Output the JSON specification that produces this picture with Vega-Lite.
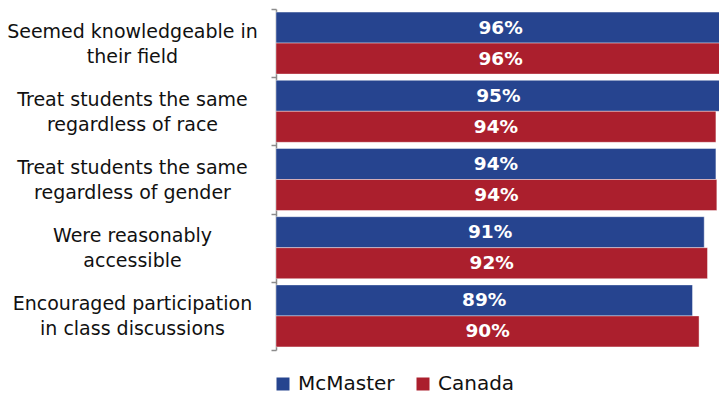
{
  "$schema": "https://vega.github.io/schema/vega-lite/v6.json",
  "width": 443,
  "height": 341,
  "autosize": {"type": "none"},
  "padding": {"left": 276, "top": 9, "right": 0, "bottom": 45},
  "background": "white",
  "config": {"view": {"stroke": null}, "font": "DejaVu Sans"},
  "data": {
    "values": [
      {"item": "Seemed knowledgeable in\ntheir field", "school": "McMaster", "value": 96, "label": "96%"},
      {"item": "Seemed knowledgeable in\ntheir field", "school": "Canada", "value": 96, "label": "96%"},
      {"item": "Treat students the same\nregardless of race", "school": "McMaster", "value": 95, "label": "95%"},
      {"item": "Treat students the same\nregardless of race", "school": "Canada", "value": 94, "label": "94%"},
      {"item": "Treat students the same\nregardless of gender", "school": "McMaster", "value": 94, "label": "94%"},
      {"item": "Treat students the same\nregardless of gender", "school": "Canada", "value": 94.2, "label": "94%"},
      {"item": "Were reasonably\naccessible", "school": "McMaster", "value": 91.5, "label": "91%"},
      {"item": "Were reasonably\naccessible", "school": "Canada", "value": 92.2, "label": "92%"},
      {"item": "Encouraged participation\nin class discussions", "school": "McMaster", "value": 89, "label": "89%"},
      {"item": "Encouraged participation\nin class discussions", "school": "Canada", "value": 90.4, "label": "90%"}
    ]
  },
  "transform": [{"calculate": "datum.value / 2", "as": "mid"}],
  "encoding": {
    "y": {
      "field": "item",
      "type": "nominal",
      "sort": null,
      "scale": {"paddingInner": 0, "paddingOuter": 0},
      "axis": {
        "title": null,
        "labelExpr": "split(datum.label, '\\n')",
        "labelAlign": "center",
        "labelBaseline": "middle",
        "labelOffset": -12,
        "labelPadding": 139,
        "labelFontSize": 19,
        "labelLineHeight": 25,
        "labelColor": "#111111",
        "labelFont": "DejaVu Sans",
        "labelLimit": 400,
        "tickBand": "extent",
        "tickSize": 5,
        "tickColor": "#8c8c8c",
        "tickWidth": 1.5,
        "domainColor": "#8c8c8c",
        "domainWidth": 1.5
      }
    },
    "yOffset": {
      "field": "school",
      "type": "nominal",
      "sort": ["McMaster", "Canada"],
      "scale": {"paddingInner": 0, "paddingOuter": 0.1}
    }
  },
  "layer": [
    {
      "mark": {"type": "bar", "clip": true, "stroke": "#ffffff", "strokeWidth": 0.6, "strokeOpacity": 0.7},
      "encoding": {
        "x": {"field": "value", "type": "quantitative", "scale": {"domain": [0, 94.66]}, "axis": null},
        "color": {
          "field": "school",
          "type": "nominal",
          "scale": {"domain": ["McMaster", "Canada"], "range": ["#26448f", "#ab1f2d"]},
          "legend": {
            "title": null,
            "orient": "none",
            "direction": "horizontal",
            "legendX": -3,
            "legendY": 365,
            "symbolType": "square",
            "symbolSize": 169,
            "symbolStrokeWidth": 0,
            "labelFontSize": 20,
            "labelFont": "DejaVu Sans",
            "labelColor": "#111111",
            "labelOffset": 5,
            "columnPadding": 18,
            "padding": 0
          }
        }
      }
    },
    {
      "mark": {"type": "text", "color": "white", "fontWeight": "bold", "fontSize": 18.5, "font": "DejaVu Sans", "baseline": "middle", "align": "center"},
      "encoding": {
        "x": {"field": "mid", "type": "quantitative", "scale": {"domain": [0, 94.66]}},
        "text": {"field": "label"}
      }
    }
  ]
}
